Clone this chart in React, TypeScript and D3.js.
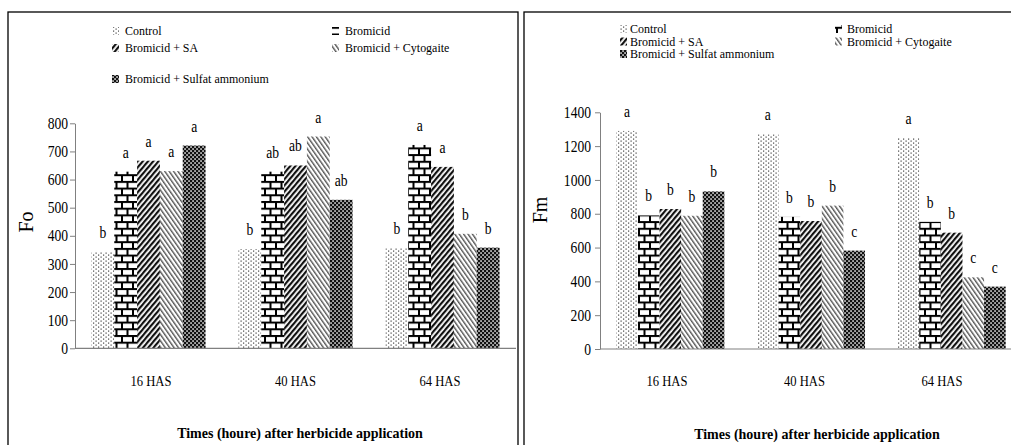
import React, { useRef, useEffect } from 'react';
import * as d3 from 'd3';

// categories and series
const groups = ['16 HAS', '40 HAS', '64 HAS'];
const treatments = [
  'Control',
  'Bromicid',
  'Bromicid + SA',
  'Bromicid + Cytogaite',
  'Bromicid + Sulfat ammonium',
];

// Fo values per time group (Control, Bromicid, +SA, +Cytogaite, +Sulfat ammonium)
const foValues = [
  [342, 628, 667, 630, 721],
  [353, 628, 650, 753, 528],
  [356, 723, 645, 407, 358],
];
const foLetters = [
  ['b', 'a', 'a', 'a', 'a'],
  ['b', 'ab', 'ab', 'a', 'ab'],
  ['b', 'a', 'a', 'b', 'b'],
];
const foTicks = [0, 100, 200, 300, 400, 500, 600, 700, 800];

// Fm values per time group
const fmValues = [
  [1290, 790, 828, 788, 932],
  [1270, 782, 757, 848, 582],
  [1248, 752, 688, 424, 369],
];
const fmLetters = [
  ['a', 'b', 'b', 'b', 'b'],
  ['a', 'b', 'b', 'b', 'c'],
  ['a', 'b', 'b', 'c', 'c'],
];
const fmTicks = [0, 200, 400, 600, 800, 1000, 1200, 1400];

const xTitle = 'Times (houre) after herbicide application';

const patternIds = ['p-control', 'p-brick', 'p-sa', 'p-cyto', 'p-sulfat'];
const FONT = 'Liberation Serif';

// layout of the two panels
const panelLayouts = [
  {
    values: foValues, letters: foLetters, ticks: foTicks, yLabel: 'Fo',
    frame: [8, 12, 510, 450], yPix: [348.3, 123.3], xRange: [75, 516], outer: 0.72,
    labelRange: [151, 440], tickPad: 3.2, yLabelPos: [33, 222], xLabelY: 386, titlePos: [300, 438],
    legendCols: [[112, 125], [332, 345]], legendRows: [35, 52, 83], legendSize: 13, legendSquash: 0.92,
  },
  {
    values: fmValues, letters: fmLetters, ticks: fmTicks, yLabel: 'Fm',
    frame: [524, 12, 500, 450], yPix: [349, 112.3], xRange: [600, 1022], outer: 0.755,
    labelRange: [667, 942], tickPad: 5.6, yLabelPos: [547, 210], xLabelY: 386, titlePos: [817, 439],
    legendCols: [[620, 630], [835, 847]], legendRows: [33, 45.5, 58], legendSize: 12, legendSquash: 1,
  },
];

// squashed serif text, like the scanned figure
const addText = (g, x, y, txt, size, squash, anchor = 'start', bold = false) =>
  g.append('text')
    .attr('transform', `translate(${x},${y}) scale(${squash},1)`)
    .attr('text-anchor', anchor)
    .attr('font-family', FONT)
    .style('font-family', FONT)
    .style('font-size', `${size}px`)
    .style('font-weight', bold ? 'bold' : 'normal')
    .attr('fill', '#000')
    .text(txt);

const App = () => {
  const svgRef = useRef(null);

  useEffect(() => {
    const svg = d3.select(svgRef.current);
    svg.selectAll('*').remove();

    // hatch patterns
    const defs = svg.append('defs');

    const pc = defs.append('pattern').attr('id', 'p-control')
      .attr('patternUnits', 'userSpaceOnUse').attr('width', 5).attr('height', 4);
    pc.append('rect').attr('width', 5).attr('height', 4).attr('fill', '#fff');
    pc.append('rect').attr('x', 0.5).attr('y', 0.5).attr('width', 1.2).attr('height', 1.2).attr('fill', '#444');
    pc.append('rect').attr('x', 3).attr('y', 2.5).attr('width', 1.2).attr('height', 1.2).attr('fill', '#444');

    const pb = defs.append('pattern').attr('id', 'p-brick')
      .attr('patternUnits', 'userSpaceOnUse').attr('width', 11).attr('height', 13.4);
    pb.append('rect').attr('width', 11).attr('height', 13.4).attr('fill', '#fff');
    pb.append('rect').attr('x', 0).attr('y', 0).attr('width', 11).attr('height', 2).attr('fill', '#000');
    pb.append('rect').attr('x', 0).attr('y', 6.7).attr('width', 11).attr('height', 2).attr('fill', '#000');
    pb.append('rect').attr('x', 0).attr('y', 0).attr('width', 2).attr('height', 6.7).attr('fill', '#000');
    pb.append('rect').attr('x', 5.5).attr('y', 6.7).attr('width', 2).attr('height', 6.7).attr('fill', '#000');

    const ps = defs.append('pattern').attr('id', 'p-sa')
      .attr('patternUnits', 'userSpaceOnUse').attr('width', 4).attr('height', 4)
      .attr('patternTransform', 'rotate(40)');
    ps.append('rect').attr('width', 4).attr('height', 4).attr('fill', '#fff');
    ps.append('rect').attr('width', 2.2).attr('height', 4).attr('fill', '#111');

    const pcy = defs.append('pattern').attr('id', 'p-cyto')
      .attr('patternUnits', 'userSpaceOnUse').attr('width', 3.6).attr('height', 4)
      .attr('patternTransform', 'rotate(-35)');
    pcy.append('rect').attr('width', 3.6).attr('height', 4).attr('fill', '#fff');
    pcy.append('rect').attr('width', 1.4).attr('height', 4).attr('fill', '#555');

    const pf = defs.append('pattern').attr('id', 'p-sulfat')
      .attr('patternUnits', 'userSpaceOnUse').attr('width', 4).attr('height', 4);
    pf.append('rect').attr('width', 4).attr('height', 4).attr('fill', '#111');
    pf.append('rect').attr('x', 0.3).attr('y', 0.3).attr('width', 1.5).attr('height', 1.5).attr('fill', '#fff');
    pf.append('rect').attr('x', 2.3).attr('y', 2.3).attr('width', 1.5).attr('height', 1.5).attr('fill', '#fff');

    panelLayouts.forEach(p => {
      const g = svg.append('g');

      // panel frame
      g.append('rect')
        .attr('x', p.frame[0]).attr('y', p.frame[1])
        .attr('width', p.frame[2]).attr('height', p.frame[3])
        .attr('fill', 'none').attr('stroke', '#000').attr('stroke-width', 1.3);

      const yMax = p.ticks[p.ticks.length - 1];
      const y = d3.scaleLinear().domain([0, yMax]).range(p.yPix);
      const x0 = d3.scaleBand().domain(groups).range(p.xRange);
      const x1 = d3.scaleBand().domain(treatments)
        .range([0, x0.bandwidth()]).paddingOuter(p.outer);
      // category labels sit a little off the bar groups in the original
      const xl = d3.scalePoint().domain(groups).range(p.labelRange);

      // bars
      groups.forEach((grp, gi) => {
        treatments.forEach((t, ti) => {
          const v = p.values[gi][ti];
          const bx = x0(grp) + x1(t);
          g.append('rect')
            .attr('x', bx)
            .attr('y', y(v))
            .attr('width', x1.bandwidth())
            .attr('height', y(0) - y(v))
            .attr('fill', `url(#${patternIds[ti]})`);
          addText(g, bx + x1.bandwidth() / 2, y(v) - 14, p.letters[gi][ti], 16, 0.85, 'middle');
        });
      });

      // y axis
      const yAxis = g.append('g')
        .attr('transform', `translate(${p.xRange[0]},0)`)
        .call(d3.axisLeft(y).tickValues(p.ticks).tickFormat(d3.format('d'))
          .tickSize(5).tickSizeOuter(0).tickPadding(p.tickPad));
      yAxis.attr('font-family', FONT).attr('font-size', 16);
      yAxis.select('.domain').attr('stroke', '#808080');
      yAxis.selectAll('.tick line').attr('stroke', '#808080');
      yAxis.selectAll('.tick text')
        .attr('transform', 'scale(0.85,1)')
        .attr('fill', '#000')
        .style('font-family', FONT)
        .style('font-size', '16px');

      // x axis line + labels
      g.append('line')
        .attr('x1', p.xRange[0]).attr('x2', p.xRange[1])
        .attr('y1', y(0)).attr('y2', y(0))
        .attr('stroke', '#808080').attr('stroke-width', 1.2);
      groups.forEach(grp => {
        addText(g, xl(grp), p.xLabelY, grp, 14, 0.9, 'middle');
      });

      // axis titles
      g.append('text')
        .attr('transform', `translate(${p.yLabelPos[0]},${p.yLabelPos[1]}) rotate(-90)`)
        .attr('text-anchor', 'middle')
        .style('font-family', FONT)
        .style('font-size', '20px')
        .text(p.yLabel);
      addText(g, p.titlePos[0], p.titlePos[1], xTitle, 14, 1.0, 'middle', true);

      // legend: two columns, row-major
      treatments.forEach((t, ti) => {
        const col = p.legendCols[ti % 2];
        const rowY = p.legendRows[Math.floor(ti / 2)];
        g.append('rect')
          .attr('x', col[0]).attr('y', rowY - 8)
          .attr('width', 7).attr('height', 8)
          .attr('fill', `url(#${patternIds[ti]})`);
        addText(g, col[1], rowY, t, p.legendSize, p.legendSquash);
      });
    });
  }, []);

  return (
    <svg
      ref={svgRef}
      width={1011}
      height={445}
      style={{ position: 'absolute', left: 0, top: 0, background: '#fff' }}
    />
  );
};

export default App;
